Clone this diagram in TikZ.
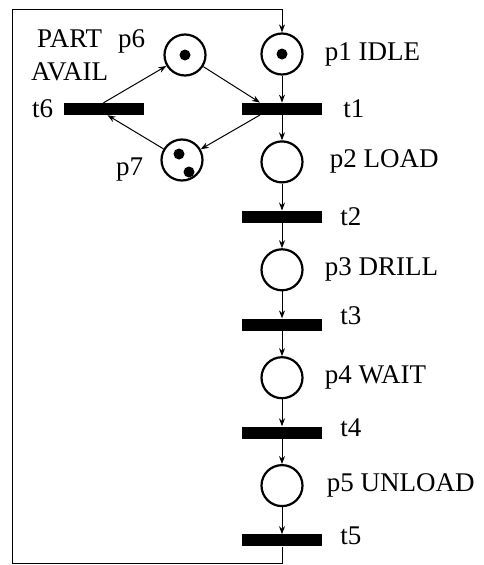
\documentclass[tikz,border=0pt]{standalone}
\usepackage{fontspec}
\setmainfont{Liberation Serif}
\usetikzlibrary{arrows.meta, positioning}
\newcommand{\lblsize}{\fontsize{27}{33}\selectfont}

\begin{document}
\begin{tikzpicture}[
  x=1pt, y=-1pt,
  place/.style={circle, draw, line width=2.2pt, minimum size=41pt, inner sep=0pt},
  trans/.style={rectangle, fill=black, minimum width=80pt, minimum height=12pt,
                inner sep=0pt},
  token/.style={circle, fill=black, minimum size=11pt, inner sep=0pt},
  lbl/.style={font=\lblsize, inner sep=0pt},
  arr/.style={-{Stealth[length=8pt, width=6pt]}, line width=1pt},
  node distance=27pt
]
\useasboundingbox (0,0) rectangle (483,565);

%% Main cycle
\node[place] (p1) at (282,54) {};
\node[trans, below=27pt of p1]   (t1) {};
\node[place, below=25.3pt of t1] (p2) {};
\node[trans, below=27pt of p2]   (t2) {};
\node[place, below=25.3pt of t2] (p3) {};
\node[trans, below=27pt of p3]   (t3) {};
\node[place, below=25.3pt of t3] (p4) {};
\node[trans, below=27pt of p4]   (t4) {};
\node[place, below=25.3pt of t4] (p5) {};
\node[trans, below=27pt of p5]   (t5) {};
\draw[arr] (p1) -- (t1);
\draw[arr] (t1) -- (p2);
\draw[arr] (p2) -- (t2);
\draw[arr] (t2) -- (p3);
\draw[arr] (p3) -- (t3);
\draw[arr] (t3) -- (p4);
\draw[arr] (p4) -- (t4);
\draw[arr] (t4) -- (p5);
\draw[arr] (p5) -- (t5);

%% Part loop
\node[place] (p6) at (185,55) {};
\node[place] (p7) at (182,160) {};
\node[trans] (t6) at (103.5,109) {};
\draw[arr] (t6.north) -- (p6);
\draw[arr] (p6) -- ([xshift=-22pt]t1.north);
\draw[arr] ([xshift=-22pt]t1.south) -- (p7);
\draw[arr] (p7) -- ([xshift=4pt]t6.south);

%% Tokens
\node[token] (tok1) at (p1) {};
\node[token] (tok6) at (p6) {};
\node[token, xshift=-3pt, yshift=6pt]  (tok7a) at (p7) {};
\node[token, xshift=7pt, yshift=-12pt] (tok7b) at (p7) {};

%% Return arc
\coordinate (cornerbl) at (12,563);
\coordinate (cornertl) at (12,9);
\draw[arr] (t5) |- (cornerbl) -- (cornertl) -| (p1);

%% Labels
\node[lbl, right=21pt of p1] (p1lbl) {p1 IDLE};
\node[lbl, right=21pt of t1] (t1lbl) {t1};
\node[lbl, right=26pt of p2] (p2lbl) {p2 LOAD};
\node[lbl, right=18pt of t2] (t2lbl) {t2};
\node[lbl, right=21pt of p3] (p3lbl) {p3 DRILL};
\node[lbl, right=18pt of t3, yshift=9pt] (t3lbl) {t3};
\node[lbl, right=21pt of p4] (p4lbl) {p4 WAIT};
\node[lbl, right=18pt of t4, yshift=5pt] (t4lbl) {t4};
\node[lbl, right=23pt of p5] (p5lbl) {p5 UNLOAD};
\node[lbl, right=18pt of t5, yshift=5pt] (t5lbl) {t5};
\node[lbl, left=10pt of t6] (t6lbl) {t6};
\node[lbl, left=18pt of p6, yshift=14pt] (p6lbl) {p6};
\node[lbl, left=17pt of p7, yshift=-10pt] (p7lbl) {p7};
\node[lbl, align=center, left=55pt of p6] (partlbl) {PART\\AVAIL};
\end{tikzpicture}
\end{document}
